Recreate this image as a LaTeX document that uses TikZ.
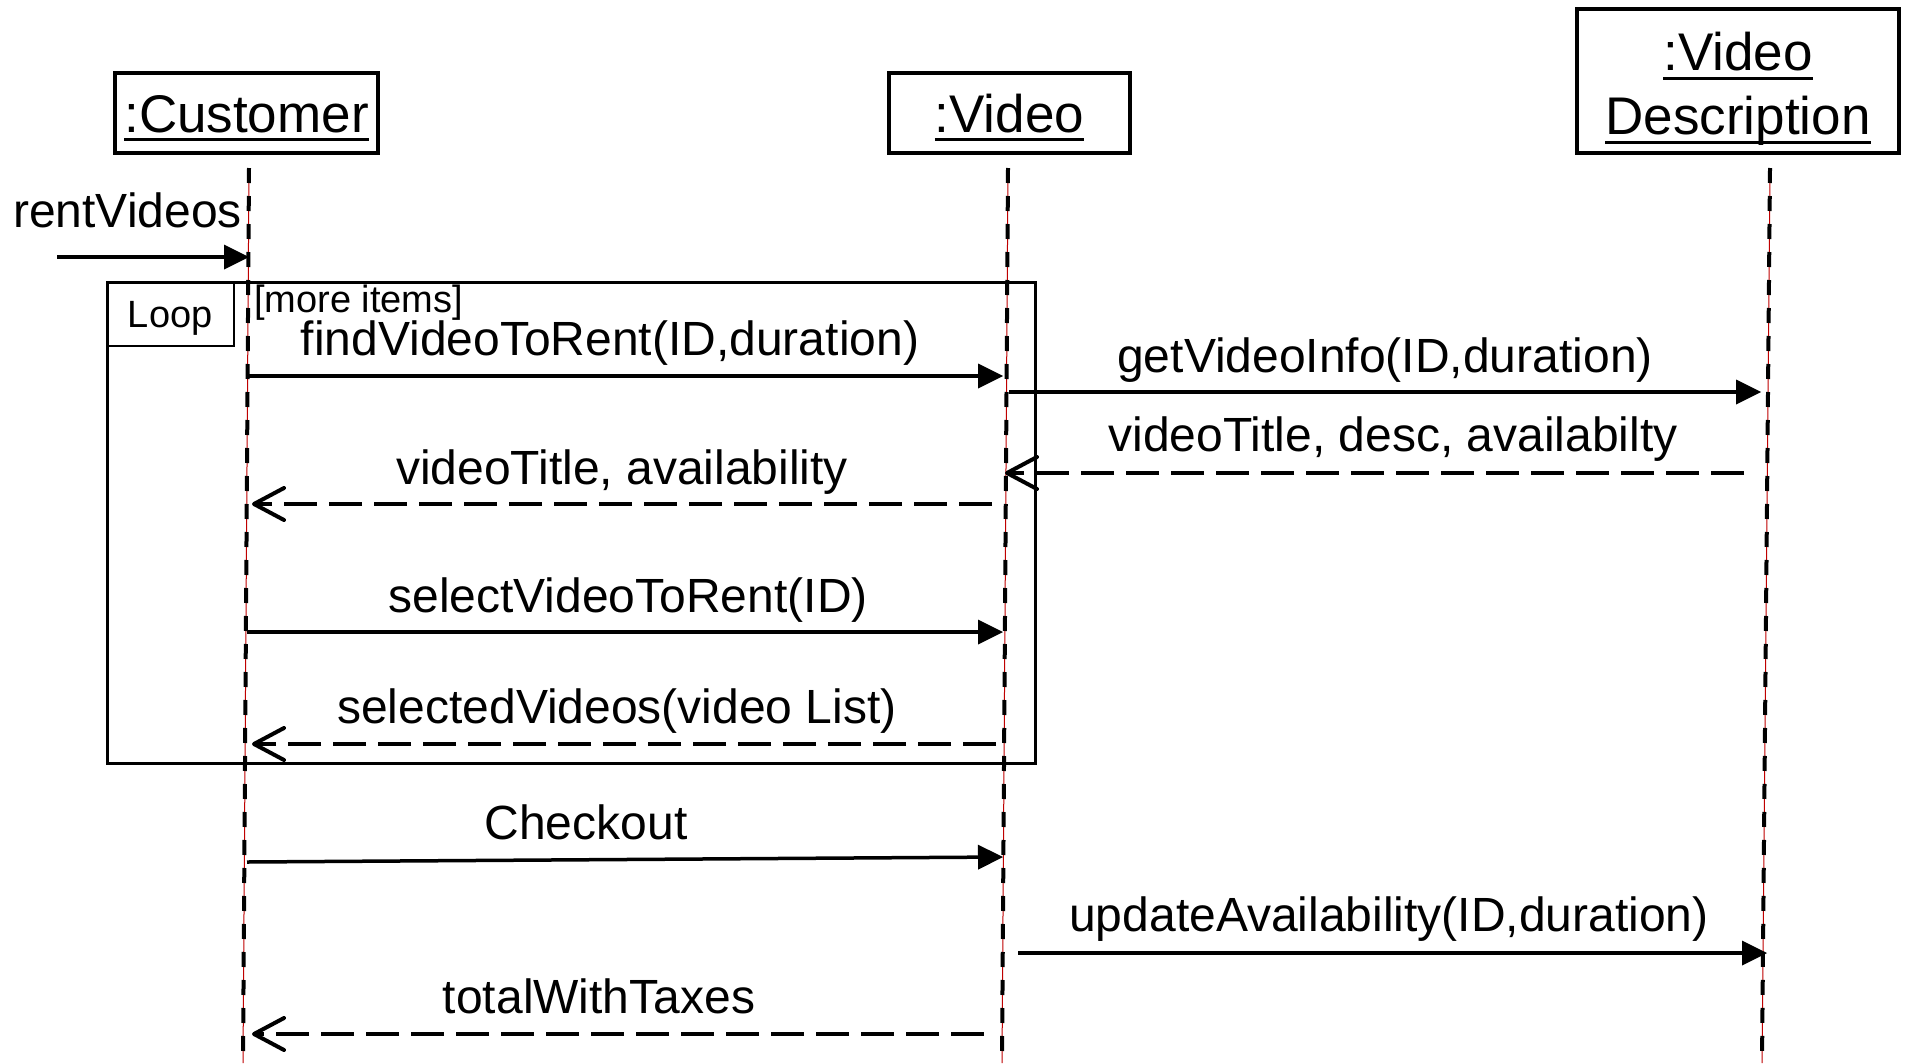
\documentclass[tikz,border=0pt]{standalone}
\usepackage{fontspec}
\setmainfont{Liberation Sans}
\usetikzlibrary{arrows.meta}
% underlined object name with a rule that may cross descenders
\newcommand\ulname[1]{\setbox0=\hbox{#1}\rlap{\rule[-9pt]{\wd0}{3pt}}\box0}

\begin{document}
\begin{tikzpicture}[x=1pt,y=-1pt,
  objbox/.style={draw, line width=4pt, inner sep=0pt, font=\fontsize{53}{64}\selectfont},
  lifeline/.style={line width=4pt, dash pattern=on 15pt off 13pt,
    preaction={draw, solid, line width=1pt, red!75!black}},
  call/.style={line width=3.5pt, -{Triangle[length=25pt, width=25pt, line width=0pt]}},
  reply/.style={line width=4pt, dash pattern=on 33pt off 12pt,
    -{Straight Barb[length=30pt, width=32pt, round]}},
  msg/.style={font=\fontsize{48}{56}\selectfont, anchor=base, inner sep=0pt},
  small/.style={font=\fontsize{38}{44}\selectfont, inner sep=0pt},
]
\useasboundingbox (0,0) rectangle (1905,1063);

% objects
\node[objbox, minimum width=263pt, minimum height=80pt, text height=38pt, text depth=0pt]
  (cust) at (246.5,113) {\ulname{:Customer}};
\node[objbox, minimum width=241pt, minimum height=80pt, text height=38pt, text depth=0pt]
  (vid) at (1009.5,113) {\ulname{:Video}};
\node[objbox, minimum width=322pt, minimum height=144pt, align=center]
  (desc) at (1738,81) {\rule{0pt}{54pt}\ulname{:Video}\\\ulname{Description}};

% lifelines
\coordinate (cust-top) at (249,168); \coordinate (cust-bot) at (243,1063);
\coordinate (vid-top) at (1008,168); \coordinate (vid-bot) at (1002,1063);
\coordinate (desc-top) at (1770,168); \coordinate (desc-bot) at (1762,1063);
\draw[lifeline] (cust-top) -- (cust-bot);
\draw[lifeline] (vid-top) -- (vid-bot);
\draw[lifeline] (desc-top) -- (desc-bot);

% loop fragment
\node[draw, line width=3pt, minimum width=928pt, minimum height=481pt, anchor=north west,
  inner sep=0pt] (loop) at (106,281) {};
\node[draw, line width=1.5pt, minimum width=127pt, minimum height=64pt, anchor=north west,
  small, text height=27pt, text depth=0pt] (looptag) at (106,281) {Loop};
\node[small, anchor=base west] (guard) at (254,312) {[more items]};

% found message
\coordinate (rv-start) at (57,257); \coordinate (cust-rv) at (249,257);
\draw[call] (rv-start) -- (cust-rv);
\node[msg, anchor=base west] (l-rv) at (13,227) {rentVideos};

% messages inside the loop
\coordinate (cust-find) at (248,376); \coordinate (vid-find) at (1003,376);
\draw[call] (cust-find) -- (vid-find);
\node[msg] (l-find) at (610,355) {findVideoToRent(ID,duration)};

\coordinate (vid-info) at (1009,392); \coordinate (desc-info) at (1761,392);
\draw[call] (vid-info) -- (desc-info);
\node[msg] (l-info) at (1385,372) {getVideoInfo(ID,duration)};

\coordinate (desc-reply) at (1744,473); \coordinate (vid-reply) at (1005,473);
\draw[reply] (desc-reply) -- (vid-reply);
\node[msg] (l-reply) at (1393,451) {videoTitle, desc, availabilty};

\coordinate (vid-avail) at (992,504); \coordinate (cust-avail) at (252,504);
\draw[reply] (vid-avail) -- (cust-avail);
\node[msg] (l-avail) at (622,484) {videoTitle, availability};

\coordinate (cust-sel) at (247,632); \coordinate (vid-sel) at (1003,632);
\draw[call] (cust-sel) -- (vid-sel);
\node[msg] (l-sel) at (628,612) {selectVideoToRent(ID)};

\coordinate (vid-list) at (996,744); \coordinate (cust-list) at (252,744);
\draw[reply] (vid-list) -- (cust-list);
\node[msg] (l-list) at (617,723) {selectedVideos(video List)};

% messages after the loop
\coordinate (cust-co) at (247,862); \coordinate (vid-co) at (1003,857);
\draw[call] (cust-co) -- (vid-co);
\node[msg] (l-co) at (586,839) {Checkout};

\coordinate (vid-upd) at (1018,953); \coordinate (desc-upd) at (1767,953);
\draw[call] (vid-upd) -- (desc-upd);
\node[msg] (l-upd) at (1389,931) {updateAvailability(ID,duration)};

\coordinate (vid-tot) at (984,1034); \coordinate (cust-tot) at (252,1034);
\draw[reply] (vid-tot) -- (cust-tot);
\node[msg] (l-tot) at (599,1013) {totalWithTaxes};
\end{tikzpicture}
\end{document}
